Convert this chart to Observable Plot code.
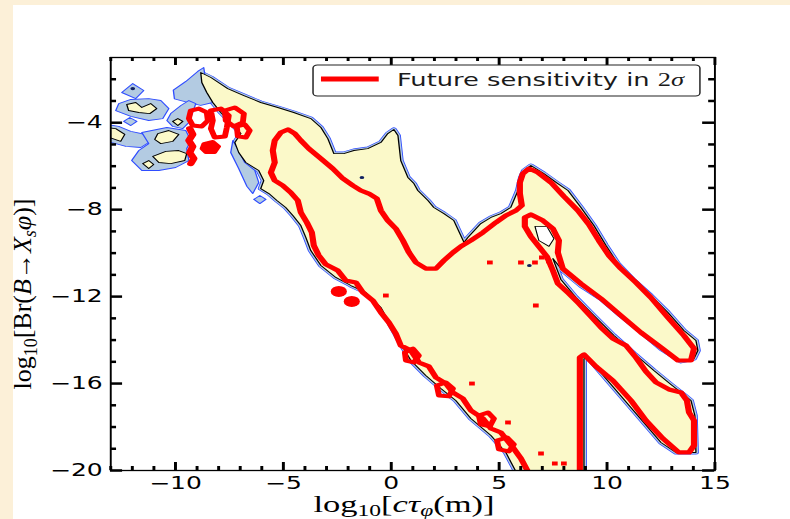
<!DOCTYPE html>
<html>
<head>
<meta charset="utf-8">
<script src="https://cdn.jsdelivr.net/npm/d3@7"></script>
<script src="https://cdn.jsdelivr.net/npm/@observablehq/plot@0.6"></script>
<style>
  html, body { margin: 0; padding: 0; }
  body { width: 790px; height: 519px; overflow: hidden; position: relative; background: #fcf0d8; }
  #panel { position: absolute; left: 13px; top: 5px; width: 777px; height: 514px; background: #ffffff; }
  #stretch { position: absolute; left: 13px; top: 5px; width: 529px; height: 514px; transform: scaleX(1.47); transform-origin: 0 0; }
  #ylab { position: absolute; left: 0; top: 0; }
</style>
</head>
<body>
<div id="panel"></div>
<div id="stretch"></div>
<svg id="ylab" width="60" height="519"></svg>
<script>
// ---------------- data (data units) ----------------
const xDomain = [-13, 15];
const yDomain = [-20, -1];
const xTickValues = [-10, -5, 0, 5, 10, 15];
const yTickValues = [-4, -8, -12, -16, -20];
const xMinorTicks = [-13,-12,-11,-9,-8,-7,-6,-4,-3,-2,-1,1,2,3,4,6,7,8,9,11,12,13,14];
const yMinorTicks = [-2,-3,-5,-6,-7,-9,-10,-11,-13,-14,-15,-17,-18,-19];
const legendLabel = "Future sensitivity in ";

// allowed region (yellow) - main connected region
const yellowMain = [[-8.83,-1.69],[-8.36,-1.92],[-7.58,-2.43],[-6.83,-2.75],[-6.05,-3.07],[-5.26,-3.30],[-4.52,-3.53],[-3.73,-3.81],[-3.26,-4.22],[-2.94,-4.73],[-2.66,-5.42],[-2.20,-5.42],[-1.73,-5.28],[-1.09,-5.19],[-0.48,-4.91],[-0.16,-4.50],[0.12,-4.31],[0.31,-4.59],[0.44,-5.74],[0.77,-6.52],[1.05,-6.80],[1.23,-7.12],[1.70,-7.58],[1.97,-7.90],[2.44,-8.18],[2.90,-8.50],[3.37,-9.51],[3.55,-9.28],[4.15,-8.64],[4.62,-8.36],[5.08,-8.18],[5.54,-7.90],[5.87,-7.12],[6.01,-6.52],[6.15,-6.20],[6.47,-5.97],[7.07,-6.34],[7.72,-6.80],[8.19,-7.12],[8.79,-7.90],[9.39,-8.73],[9.95,-9.65],[10.50,-10.48],[11.25,-11.26],[12.03,-11.95],[12.82,-12.73],[13.56,-13.56],[14.12,-14.02],[14.21,-14.48],[14.03,-14.85],[13.42,-14.98],[12.50,-14.40],[11.57,-13.62],[10.64,-12.88],[9.72,-12.10],[8.79,-11.50],[7.95,-10.81],[7.49,-10.25],[7.86,-11.21],[8.56,-12.04],[9.39,-12.87],[10.32,-13.79],[11.25,-14.62],[12.17,-15.40],[12.96,-16.04],[13.61,-16.55],[13.89,-16.78],[14.07,-17.47],[14.12,-19.17],[13.19,-19.17],[12.50,-18.71],[9.11,-14.80],[8.93,-14.85],[8.93,-20.3],[5.91,-20.3],[5.31,-19.17],[4.62,-18.39],[3.69,-17.61],[2.99,-16.78],[2.30,-16.23],[1.60,-15.63],[0.91,-14.94],[0.44,-14.16],[-0.02,-13.33],[-0.48,-12.50],[-1.18,-11.81],[-1.87,-11.49],[-2.57,-11.12],[-3.26,-10.57],[-3.73,-9.88],[-3.96,-9.28],[-4.19,-8.73],[-4.56,-8.27],[-4.89,-7.90],[-5.30,-7.58],[-5.67,-7.26],[-6.05,-7.03],[-5.91,-6.66],[-6.14,-6.20],[-6.74,-5.83],[-7.07,-5.37],[-7.25,-4.91],[-6.97,-4.50],[-7.44,-3.99],[-7.90,-3.53],[-8.27,-3.07],[-8.55,-2.61],[-8.78,-2.15]];

// yellow islands in the upper-left corner
const yellowIslandB = [[-12.26,-3.16],[-11.84,-3.07],[-11.56,-3.30],[-11.15,-3.12],[-10.87,-3.35],[-11.19,-3.58],[-11.70,-3.53],[-12.17,-3.44]];
const yellowIslandD = [[-13.23,-4.22],[-12.77,-4.27],[-12.35,-4.54],[-12.54,-4.86],[-12.91,-4.73],[-13.23,-4.63]];
const yellowIslandE1 = [[-10.82,-4.50],[-10.31,-4.36],[-9.85,-4.54],[-10.13,-4.86],[-10.68,-4.96],[-10.96,-4.77]];
const yellowIslandE2 = [[-11.05,-5.55],[-10.45,-5.32],[-9.85,-5.28],[-9.48,-5.42],[-9.57,-5.74],[-10.22,-5.88],[-10.77,-5.83]];
const yellowIslandE3 = [[-11.52,-5.88],[-11.24,-5.74],[-11.01,-5.92],[-11.24,-6.11]];
const yellowIslandF = [[-10.13,-3.94],[-9.89,-3.81],[-9.66,-3.94],[-9.89,-4.13]];

// light-blue (wider) regions
const blueTop = [[-8.69,-1.46],[-8.97,-1.64],[-9.52,-2.10],[-10.10,-2.50],[-10.05,-2.90],[-9.48,-3.05],[-8.83,-3.20],[-8.27,-3.07],[-8.55,-2.43]];
const blueA = [[-11.98,-2.20],[-11.47,-2.52],[-11.84,-2.89],[-12.49,-2.61]];
const blueB = [[-12.63,-3.12],[-12.07,-2.93],[-11.24,-2.89],[-10.68,-2.98],[-10.31,-3.35],[-10.59,-3.81],[-11.24,-3.90],[-12.07,-3.71],[-12.77,-3.44]];
const blueC = [[-12.12,-3.76],[-11.79,-3.94],[-12.07,-4.13],[-12.40,-3.94]];
const blueD = [[-13.23,-4.08],[-12.63,-4.17],[-12.07,-4.40],[-11.38,-4.54],[-11.10,-4.82],[-11.61,-5.14],[-12.30,-5.09],[-12.77,-4.96],[-13.23,-4.86]];
const blueE = [[-11.56,-4.45],[-10.40,-4.22],[-9.52,-4.36],[-9.29,-4.82],[-9.48,-5.19],[-9.38,-5.74],[-9.99,-6.06],[-10.77,-6.20],[-11.56,-6.20],[-12.03,-5.74],[-11.70,-5.28],[-11.24,-4.96]];
const blueF = [[-10.22,-3.58],[-9.75,-3.21],[-9.38,-2.98],[-9.06,-3.12],[-9.20,-3.53],[-9.38,-3.99],[-9.66,-4.27],[-10.13,-4.17],[-10.40,-3.90]];
const blueH = [[-7.34,-4.82],[-7.07,-5.28],[-6.79,-5.83],[-6.32,-6.20],[-6.14,-6.75],[-6.42,-7.26],[-6.69,-6.93],[-7.07,-6.11],[-7.44,-5.37]];
const blueDiamond = [[-6.09,-7.35],[-5.81,-7.53],[-6.09,-7.72],[-6.37,-7.53]];

// white hole inside the region near the strip junction
const holeNearStrip = [[6.66,-8.77],[7.21,-8.77],[7.54,-9.33],[7.31,-9.69],[6.84,-9.42]];

// red future-sensitivity contour (main, open at the bottom edge)
const redMain = [[6.47,-20.3],[6.01,-19.45],[5.64,-18.94],[5.08,-18.25],[4.62,-18.07],[4.25,-17.61],[3.69,-17.24],[3.32,-16.69],[2.86,-16.41],[2.53,-16.00],[2.07,-15.72],[1.74,-15.21],[1.28,-15.03],[0.91,-14.48],[0.44,-14.25],[0.21,-13.70],[-0.11,-13.19],[-0.48,-12.73],[-0.85,-12.18],[-1.32,-11.81],[-1.64,-11.35],[-2.11,-11.26],[-2.48,-10.80],[-3.03,-10.52],[-3.36,-10.11],[-3.59,-9.65],[-3.68,-9.05],[-3.91,-8.59],[-4.19,-8.13],[-4.33,-7.58],[-4.66,-7.21],[-5.03,-6.89],[-5.40,-6.66],[-5.58,-6.29],[-5.40,-5.83],[-5.49,-5.28],[-5.40,-4.82],[-5.12,-4.45],[-4.79,-4.31],[-4.47,-4.50],[-4.19,-4.82],[-3.82,-5.19],[-3.26,-5.65],[-2.71,-6.11],[-2.24,-6.57],[-1.78,-6.89],[-1.41,-7.12],[-1.04,-7.26],[-0.67,-7.49],[-0.48,-8.04],[-0.16,-8.50],[0.21,-8.87],[0.54,-9.42],[0.82,-9.97],[1.14,-10.43],[1.60,-10.71],[2.07,-10.71],[2.44,-10.34],[2.86,-9.97],[3.23,-9.69],[3.69,-9.42],[4.25,-9.05],[4.85,-8.59],[5.31,-8.27],[5.78,-8.04],[6.05,-7.81],[5.96,-7.26],[5.96,-6.75],[6.10,-6.34],[6.38,-6.11],[6.80,-6.29],[7.40,-6.75],[8.00,-7.39],[8.65,-8.04],[9.16,-8.68],[9.62,-9.42],[10.09,-10.11],[10.64,-10.71],[11.34,-11.35],[12.03,-12.04],[12.82,-12.96],[13.56,-13.79],[14.03,-14.39],[13.89,-14.94],[13.29,-14.94],[12.50,-14.34],[11.57,-13.65],[10.64,-12.87],[9.72,-12.09],[8.79,-11.40],[7.95,-10.71],[7.72,-9.97],[7.77,-9.42],[7.49,-8.87],[7.03,-8.50],[6.47,-8.22],[6.19,-8.36],[6.19,-8.77],[6.47,-9.23],[6.84,-9.69],[7.21,-10.15],[7.49,-10.80],[7.72,-11.40],[8.23,-11.86],[8.70,-12.32],[9.25,-12.91],[9.72,-13.42],[10.27,-13.93],[10.88,-14.25],[11.34,-14.80],[11.80,-15.44],[12.27,-15.95],[12.87,-16.27],[13.43,-16.41],[13.70,-16.78],[13.80,-17.33],[14.03,-17.70],[14.03,-18.85],[13.80,-19.17],[13.33,-19.17],[12.59,-18.53],[11.80,-17.70],[11.11,-16.78],[10.27,-15.86],[9.48,-15.21],[8.93,-14.66],[8.74,-14.80],[8.74,-20.3]];

// small closed red loops
const redRing1 = [[-9.29,-3.44],[-8.92,-3.35],[-8.55,-3.53],[-8.50,-3.90],[-8.78,-4.17],[-9.20,-4.13],[-9.38,-3.81]];
const redLoopA = [[-8.36,-3.44],[-7.90,-3.35],[-7.53,-3.67],[-7.62,-4.22],[-7.71,-4.63],[-8.18,-4.68],[-8.36,-4.27],[-8.27,-3.90]];
const redLoopB = [[-7.71,-3.44],[-7.25,-3.30],[-6.83,-3.58],[-6.88,-3.99],[-7.30,-4.17],[-7.67,-3.90]];
const redLoopC = [[-7.16,-4.17],[-6.79,-4.08],[-6.56,-4.36],[-6.74,-4.68],[-7.11,-4.63]];
const redLoop1 = [[2.11,-16.09],[2.53,-15.95],[2.86,-16.23],[2.67,-16.59],[2.21,-16.55]];
const redLoop2 = [[4.06,-17.47],[4.48,-17.33],[4.76,-17.61],[4.57,-17.97],[4.15,-17.88]];
const redLoop3 = [[4.90,-18.62],[5.36,-18.48],[5.68,-18.80],[5.45,-19.12],[4.99,-19.03]];
const redLoop4 = [[0.63,-14.57],[1.00,-14.39],[1.28,-14.71],[1.05,-15.03],[0.68,-14.94]];
const redChain = [[-9.34,-4.27],[-9.20,-4.54],[-9.38,-4.82],[-9.20,-5.09],[-9.34,-5.37],[-9.15,-5.65],[-9.29,-5.88]];
const redBlob = [[-8.69,-4.96],[-8.27,-4.86],[-7.99,-5.09],[-8.18,-5.37],[-8.60,-5.37],[-8.78,-5.19]];
const redBlobDots = [[-2.43,-11.76],[-1.83,-12.22]];
const redSquares = [[4.57,-10.43],[6.01,-10.43],[6.66,-10.43],[6.98,-10.20],[7.31,-10.38],[6.70,-12.41],[3.74,-16.00],[5.41,-17.79],[6.94,-19.22],[7.58,-19.68],[8.00,-19.68],[-0.25,-11.95]];
const darkSpots = [[-11.98,-2.43],[6.40,-10.57],[-1.36,-6.52]];

// ---------------- styling ----------------
const YELLOW = "#fbf9c9";
const LIGHTBLUE = "#b3cbe2";
const BLUE = "#2f4dff";
const RED = "#ff0000";

const rows = polys => polys.flatMap((pts, i) => pts.map(([x, y]) => ({x, y, z: i})));
const pts = arr => arr.map(([x, y]) => ({x, y}));
const fmt = d => (d < 0 ? "\u2212" + Math.abs(d) : String(d));

const W = 529, H = 514, ML = 66, MR = 52, MT = 52, MB = 49;
const innerW = W - ML - MR, innerH = H - MT - MB;

const blueRows = rows([blueTop, blueA, blueB, blueC, blueD, blueE, blueF, blueH, blueDiamond]);
const yellowRows = rows([yellowMain, yellowIslandB, yellowIslandD, yellowIslandE1, yellowIslandE2, yellowIslandE3, yellowIslandF]);
const loopRows = rows([redRing1, redLoopA, redLoopB, redLoopC, redLoop1, redLoop2, redLoop3, redLoop4]);

const chart = Plot.plot({
  width: W, height: H,
  marginLeft: ML, marginRight: MR, marginTop: MT, marginBottom: MB,
  x: {domain: xDomain, label: null},
  y: {domain: yDomain, label: null},
  style: {background: "transparent", color: "black", fontFamily: "DejaVu Sans", overflow: "visible"},
  marks: [
    // blue band around main region
    Plot.line(pts(yellowMain), {x: "x", y: "y", curve: "linear-closed", stroke: BLUE, strokeWidth: 4, clip: true}),
    Plot.line(pts(yellowMain), {x: "x", y: "y", curve: "linear-closed", stroke: LIGHTBLUE, strokeWidth: 2.8, clip: true}),
    Plot.line(blueRows, {x: "x", y: "y", z: "z", curve: "linear-closed", fill: LIGHTBLUE, stroke: BLUE, strokeWidth: 0.9, clip: true}),
    // yellow allowed region
    Plot.line(yellowRows, {x: "x", y: "y", z: "z", curve: "linear-closed", fill: YELLOW, stroke: "black", strokeWidth: 0.9, clip: true}),
    Plot.line(pts(holeNearStrip), {x: "x", y: "y", curve: "linear-closed", fill: "white", stroke: "black", strokeWidth: 0.8, clip: true}),
    Plot.dot(pts(darkSpots), {x: "x", y: "y", r: 1.6, fill: "#102060", clip: true}),
    // red contours
    Plot.line(loopRows, {x: "x", y: "y", z: "z", curve: "linear-closed", stroke: RED, strokeWidth: 4, clip: true}),
    Plot.line(pts(redBlob), {x: "x", y: "y", curve: "linear-closed", fill: RED, stroke: RED, strokeWidth: 3, clip: true}),
    Plot.line(pts(redChain), {x: "x", y: "y", stroke: RED, strokeWidth: 5, clip: true}),
    Plot.line(pts(redMain), {x: "x", y: "y", stroke: RED, strokeWidth: 4.2, clip: true}),
    Plot.dot(pts(redBlobDots), {x: "x", y: "y", r: 5.5, fill: RED, clip: true}),
    Plot.dot(pts(redSquares), {x: "x", y: "y", r: 2.2, symbol: "square", fill: RED, clip: true}),
    // frame and inward ticks
    Plot.frame({stroke: "black", strokeWidth: 1.3}),
    Plot.ruleX(xTickValues, {x: d => d, insetTop: innerH - 8, stroke: "black", strokeWidth: 2}),
    Plot.ruleX(xTickValues, {x: d => d, insetBottom: innerH - 8, stroke: "black", strokeWidth: 2}),
    Plot.ruleX(xMinorTicks, {x: d => d, insetTop: innerH - 4, stroke: "black", strokeWidth: 2}),
    Plot.ruleX(xMinorTicks, {x: d => d, insetBottom: innerH - 4, stroke: "black", strokeWidth: 2}),
    Plot.ruleY(yTickValues, {y: d => d, insetRight: innerW - 8.2, stroke: "black", strokeWidth: 2.5}),
    Plot.ruleY(yTickValues, {y: d => d, insetLeft: innerW - 8.2, stroke: "black", strokeWidth: 2.5}),
    Plot.ruleY(yMinorTicks, {y: d => d, insetRight: innerW - 4.1, stroke: "black", strokeWidth: 2.5}),
    Plot.ruleY(yMinorTicks, {y: d => d, insetLeft: innerW - 4.1, stroke: "black", strokeWidth: 2.5}),
    Plot.axisX(xTickValues, {tickSize: 0, tickPadding: 6, fontSize: 17, tickFormat: fmt, label: null}),
    Plot.axisY(yTickValues, {tickSize: 0, tickPadding: 5.5, fontSize: 17, tickFormat: fmt, label: null})
  ]
});

document.getElementById("stretch").appendChild(chart);

// legend and x-axis title inside the stretched chart svg
const svg = d3.select(chart);
const lg = svg.append("g");
lg.append("rect").attr("x", 204.1).attr("y", 60).attr("width", 263.2).attr("height", 31)
  .attr("rx", 3).attr("fill", "white").attr("stroke", "#222").attr("stroke-width", 1);
lg.append("line").attr("x1", 209.5).attr("x2", 248.8).attr("y1", 74).attr("y2", 74)
  .attr("stroke", RED).attr("stroke-width", 5);
const lt = lg.append("text").attr("x", 261.2).attr("y", 81).attr("text-anchor", "start")
  .attr("font-family", "DejaVu Sans").attr("font-size", 17.5).attr("fill", "#1a1a1a");
lt.append("tspan").text(legendLabel);
lt.append("tspan").attr("font-family", "Liberation Serif").attr("font-size", 18).text("2");
lt.append("tspan").attr("font-family", "Liberation Serif").attr("font-style", "italic").attr("font-size", 18).text("\u03c3");

const xl = svg.append("text").attr("x", 266).attr("y", 507).attr("text-anchor", "middle")
  .attr("font-family", "Liberation Serif").attr("font-size", 23.5).attr("fill", "black");
xl.append("tspan").text("log");
xl.append("tspan").attr("font-size", 16).attr("dy", 4).text("10");
xl.append("tspan").attr("dy", -4).text("[");
xl.append("tspan").attr("font-style", "italic").text("c\u03c4");
xl.append("tspan").attr("font-style", "italic").attr("font-size", 16).attr("dy", 4).text("\u03c6");
xl.append("tspan").attr("dy", -4).text("(m)]");

// y-axis title (not stretched)
const yl = d3.select("#ylab").append("text")
  .attr("transform", "translate(31,294) rotate(-90)")
  .attr("text-anchor", "middle").attr("font-family", "Liberation Serif").attr("font-size", 26).attr("fill", "black");
yl.append("tspan").text("log");
yl.append("tspan").attr("font-size", 18).attr("dy", 6).text("10");
yl.append("tspan").attr("dy", -6).text("[Br(");
yl.append("tspan").attr("font-style", "italic").text("B");
yl.append("tspan").text("\u2192");
yl.append("tspan").attr("font-style", "italic").text("X");
yl.append("tspan").attr("font-style", "italic").attr("font-size", 18).attr("dy", 5).text("s");
yl.append("tspan").attr("font-style", "italic").attr("dy", -5).text("\u03c6");
yl.append("tspan").text(")]");
</script>
</body>
</html>
